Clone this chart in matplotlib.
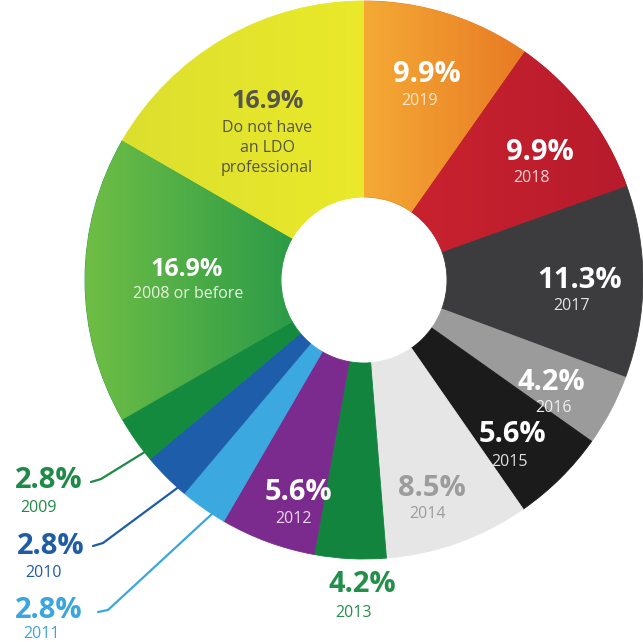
import numpy as np
import matplotlib.pyplot as plt
from matplotlib.colors import to_rgb

W, H = 643, 642

# share of organisations by year the LDO professional started
years = ['2019', '2018', '2017', '2016', '2015', '2014', '2013', '2012',
         '2011', '2010', '2009', '2008 or before',
         'Do not have\nan LDO\nprofessional']
shares = [9.9, 9.9, 11.3, 4.2, 5.6, 8.5, 4.2, 5.6, 2.8, 2.8, 2.8, 16.9, 16.9]
pct_text = ['%.1f%%' % v for v in shares]

colors = ['#F09530', '#C21F2E', '#3C3C3E', '#9B9B9B', '#1B1B1B', '#E6E6E6',
          '#12843E', '#7B2A8E', '#3BA8E0', '#1E5DAA', '#138A3E', '#4FB046',
          '#E3E32B']
# left -> right shading for some slices
grads = {0: ('#F4AA35', '#E87A24'), 1: ('#C9222F', '#B71B2C'),
         11: ('#6FBE45', '#2C9B48'), 12: ('#DCDF2E', '#EAE92A')}

# label placement (pixel coords from the top-left corner)
pct_pos = [(427, 75), (540, 152), (580, 280), (551, 382), (512, 435),
           (432, 488), (362, 585), (298, 493), (15, 610), (17, 547),
           (15, 480), (187, 270), (268, 102)]
sub_pos = [(419, 101), (532, 178), (572, 306), (553, 408), (509, 462),
           (428, 514), (353, 613), (294, 519), (23, 634), (25, 573),
           (20, 508), (188, 294), (267, 148)]
pct_col = ['white'] * 5 + ['#9C9C9C', '#22904A', 'white', '#3AA6DD',
                           '#1F5CA6', '#1F8A47', 'white', '#55554A']
sub_col = ['#FBE7CF', '#F6D6D8', '#E4E4E4', '#EFEFEF', '#E0E0E0', '#9C9C9C',
           '#22904A', '#EBD8F0', '#3AA6DD', '#1F5CA6', '#1F8A47', '#EAF5E2',
           '#55554A']
leaders = {8: [(98, 612), (108, 610), (213, 513)],
           9: [(93, 546), (103, 543), (180, 486)],
           10: [(91, 482), (101, 479), (148, 450)]}

cx, cy = 364, H - 280
R, r_in = 279, 83

fig = plt.figure(figsize=(W / 100, H / 100), dpi=100)
ax = fig.add_axes([0, 0, 1, 1])

wedges, _ = ax.pie(shares, colors=colors, startangle=90, counterclock=False,
                   radius=R, center=(cx, cy),
                   wedgeprops=dict(width=R - r_in, linewidth=0.6))
for i, w in enumerate(wedges):
    w.set_edgecolor(colors[i])
    if i in grads:
        c1, c2 = np.array(to_rgb(grads[i][0])), np.array(to_rgb(grads[i][1]))
        t = np.linspace(0, 1, 256)[None, :, None]
        img = c1 + (c2 - c1) * t
        ext = w.get_path().get_extents()
        im = ax.imshow(img, extent=[ext.x0, ext.x1, ext.y0, ext.y1],
                       aspect='auto', zorder=w.get_zorder() + 0.1,
                       interpolation='bilinear')
        im.set_clip_path(w)
        w.set_edgecolor(grads[i][1])

for i in range(len(years)):
    x, y = pct_pos[i]
    ha = 'left' if i in leaders else 'center'
    fs = 18 if i >= 11 else 21
    ax.text(x, H - y, pct_text[i], ha=ha, va='center', fontsize=fs,
            fontweight='bold', color=pct_col[i], family='Open Sans', zorder=5)
    x, y = sub_pos[i]
    ax.text(x, H - y, years[i], ha=ha, va='center', fontsize=11.5,
            color=sub_col[i], family='Open Sans', zorder=5,
            linespacing=1.3)

for i, pts in leaders.items():
    xs = [p[0] for p in pts]
    ys = [H - p[1] for p in pts]
    ax.plot(xs, ys, color=pct_col[i], lw=1.6, solid_capstyle='round', zorder=4)

ax.set_xlim(0, W)
ax.set_ylim(0, H)
ax.set_aspect('equal')
ax.axis('off')
fig.savefig('out.png', dpi=100)
